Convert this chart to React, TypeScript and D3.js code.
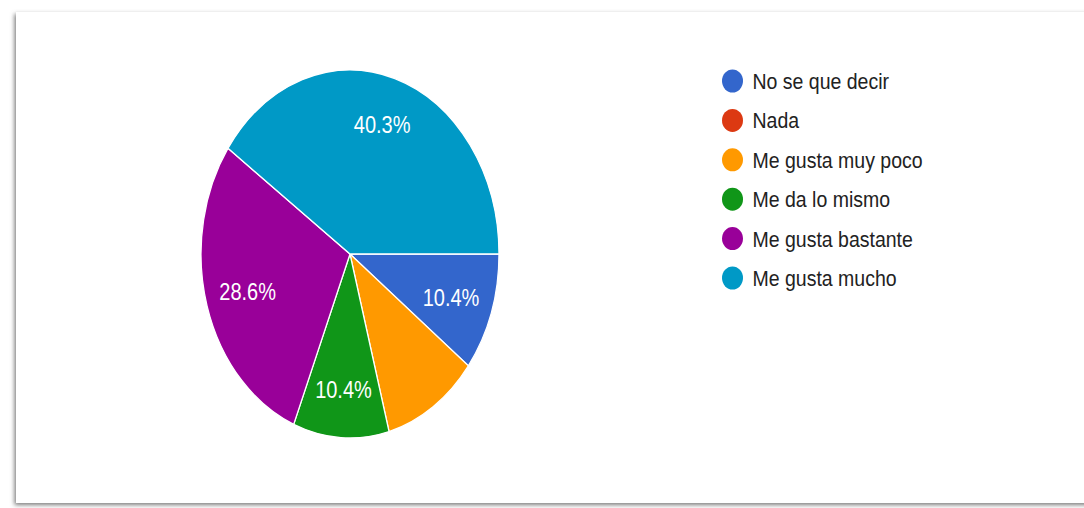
import React from "react";
import * as d3 from "d3";

const categories = [
  "No se que decir",
  "Nada",
  "Me gusta muy poco",
  "Me da lo mismo",
  "Me gusta bastante",
  "Me gusta mucho",
];
const counts = [8, 0, 8, 8, 22, 31];
const sliceLabels = ["10.4%", "", "", "10.4%", "28.6%", "40.3%"];
const colors = ["#3366cc", "#dc3912", "#ff9900", "#109618", "#990099", "#0099c6"];

const W = 1084;
const H = 508;
const cx = 350;
const cy = 254;
const r = 149;
const sy = 184 / 149; // the picture is stretched vertically
const textSy = 1.16;

export default function App() {
  const pie = d3
    .pie<number>()
    .sort(null)
    .startAngle(Math.PI / 2)
    .endAngle(Math.PI / 2 + 2 * Math.PI)(counts);

  const arc = d3.arc<d3.PieArcDatum<number>>().innerRadius(0).outerRadius(r);
  const labelArc = d3
    .arc<d3.PieArcDatum<number>>()
    .innerRadius(110)
    .outerRadius(110);

  const legendY = d3
    .scalePoint<string>()
    .domain(categories)
    .range([81, 278]);

  return (
    <svg
      width={W}
      height={H}
      style={{ position: "absolute", left: 0, top: 0, background: "#fff" }}
      fontFamily="'Liberation Sans', Arial, sans-serif"
    >
      <defs>
        <filter id="frameShadow" x="-5%" y="-5%" width="110%" height="110%">
          <feDropShadow dx="-1.5" dy="2" stdDeviation="2" floodColor="#666" floodOpacity="0.85" />
        </filter>
      </defs>
      <rect x={16} y={12} width={1100} height={491} fill="#fff" filter="url(#frameShadow)" />

      <g transform={`translate(${cx},${cy}) scale(1,${sy})`}>
        {pie.map((d, i) =>
          d.value > 0 ? (
            <path
              key={categories[i]}
              d={arc(d) || ""}
              fill={colors[i]}
              stroke="#fff"
              strokeWidth={1.3}
              vectorEffect="non-scaling-stroke"
            />
          ) : null
        )}
      </g>

      {pie.map((d, i) => {
        if (!sliceLabels[i]) return null;
        const [lx, ly] = labelArc.centroid(d);
        return (
          <text
            key={"l" + i}
            transform={`translate(${cx + lx * 0.97},${cy + ly * sy}) scale(1,${textSy})`}
            textAnchor="middle"
            dominantBaseline="central"
            fontSize={20}
            fill="#fff"
          >
            {sliceLabels[i]}
          </text>
        );
      })}

      {categories.map((c, i) => (
        <g key={c} transform={`translate(732.5,${legendY(c)})`}>
          <ellipse rx={10.5} ry={11.5} fill={colors[i]} />
          <text
            x={20}
            y={0}
            transform={`scale(1,${textSy})`}
            dominantBaseline="central"
            fontSize={19.5}
            fill="#222"
          >
            {c}
          </text>
        </g>
      ))}
    </svg>
  );
}
